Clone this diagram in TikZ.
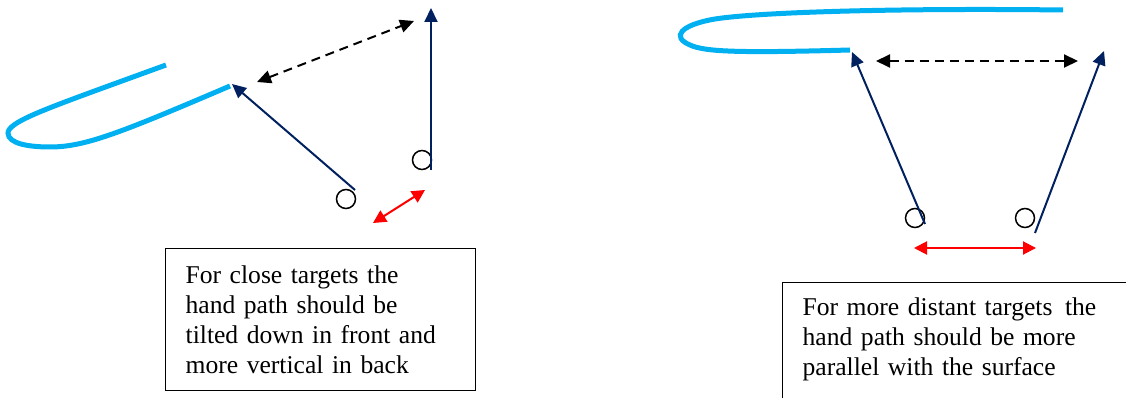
\documentclass[tikz,border=0pt]{standalone}
\usepackage{fontspec}
\setmainfont{Liberation Serif}
\usetikzlibrary{arrows.meta}
\definecolor{pathblue}{HTML}{00B0F0}
\definecolor{handnavy}{HTML}{002060}
\tikzset{
  handpath/.style={pathblue, line width=5pt},
  reach/.style={handnavy, line width=2pt, -{Triangle[length=14pt,width=13pt]}},
  gapline/.style={black, line width=2pt, dash pattern=on 9pt off 6pt,
    {Triangle[length=14pt,width=13pt]}-{Triangle[length=14pt,width=13pt]}},
  spacing/.style={red, line width=2pt,
    {Triangle[length=13pt,width=13pt]}-{Triangle[length=13pt,width=13pt]}},
  target/.style={circle, draw=black, line width=1.5pt, minimum size=19pt, inner sep=0pt},
  note/.style={draw=black, line width=1.3pt, align=left, anchor=north west,
    font=\fontsize{25.6}{30}\selectfont, inner xsep=20pt, text height=17.5pt}
}
\begin{document}
\begin{tikzpicture}[x=1pt,y=-1pt]
\useasboundingbox (0,0) rectangle (1126,398);
\clip (0,0) rectangle (1126,398);

% ---- close targets ----
\draw[handpath] (166,65) -- (100,89)
  .. controls (40,111) and (8,123) .. (8,133)
  .. controls (8,144) and (30,147) .. (50,147)
  .. controls (85,147) and (120,133) .. (230,86) coordinate (handA);
\node[target] (tA1) at (346,199) {};
\node[target] (tA2) at (422,160) {};
\coordinate (startA1) at (355,190);
\coordinate (startA2) at (431,170);
\coordinate (tipA1) at (232,84);
\coordinate (tipA2) at (431,8);
\draw[reach] (startA1) -- (tipA1);
\draw[reach] (startA2) -- (tipA2);
\coordinate (gapA1) at (257,82);
\coordinate (gapA2) at (414,21);
\draw[gapline] (gapA1) -- (gapA2);
\coordinate (sepA1) at (373,223);
\coordinate (sepA2) at (425,190);
\draw[spacing] (sepA1) -- (sepA2);
\node[note, text width=270pt, text depth=89.5pt, inner ysep=17.5pt] (closebox) at (165,248)
  {For close targets the\\hand path should be\\tilted down in front and\\more vertical in back};

% ---- distant targets ----
\draw[handpath] (1063,10) .. controls (900,8) and (760,12) .. (715,19)
  .. controls (680,25) and (671,37) .. (690,45)
  .. controls (705,52) and (740,53) .. (850,50) coordinate (handB);
\node[target] (tB1) at (915,218) {};
\node[target] (tB2) at (1025,218) {};
\coordinate (startB1) at (925,224);
\coordinate (startB2) at (1035,233);
\coordinate (tipB1) at (852,52);
\coordinate (tipB2) at (1104,51);
\draw[reach] (startB1) -- (tipB1);
\draw[reach] (startB2) -- (tipB2);
\coordinate (gapB1) at (876,61);
\coordinate (gapB2) at (1078,61);
\draw[gapline] (gapB1) -- (gapB2);
\coordinate (sepB1) at (914,248);
\coordinate (sepB2) at (1036,248);
\draw[spacing] (sepB1) -- (sepB2);
\node[note, text width=420pt, text depth=120pt, inner ysep=15pt] (farbox) at (782,282)
  {For more distant targets\kern4pt{} the\\hand path should be more\\parallel with the surface};
\end{tikzpicture}
\end{document}
